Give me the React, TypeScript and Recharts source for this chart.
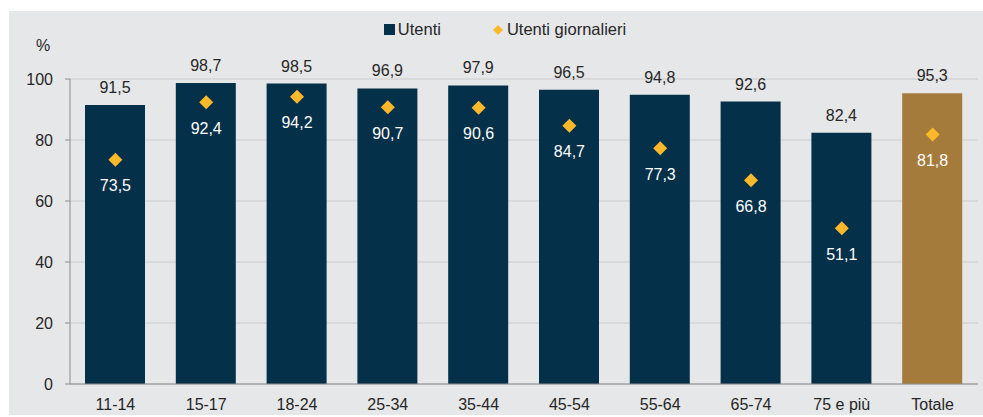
import { ComposedChart, Bar, Line, XAxis, YAxis, CartesianGrid, Cell, LabelList } from 'recharts'

const categories = ['11-14', '15-17', '18-24', '25-34', '35-44', '45-54', '55-64', '65-74', '75 e più', 'Totale']
const utenti = [91.5, 98.7, 98.5, 96.9, 97.9, 96.5, 94.8, 92.6, 82.4, 95.3]
const giornalieri = [73.5, 92.4, 94.2, 90.7, 90.6, 84.7, 77.3, 66.8, 51.1, 81.8]
const yTicks = [0, 20, 40, 60, 80, 100]
const boundaries = [0, 1, 2, 3, 4, 5, 6, 7, 8, 9, 10]

const NAVY = '#04304a'
const GOLD = '#a57b3b'
const YELLOW = '#fbb82a'
const TEXT = '#262626'
const FONT = '"Liberation Sans", Arial, sans-serif'

const data = categories.map((name, i) => ({
  name,
  pos: i + 0.5,
  utenti: utenti[i],
  giornalieri: giornalieri[i],
}))

const fmt = (v: number) => v.toFixed(1).replace('.', ',')

function Diamond(props: any) {
  const { cx, cy } = props
  if (cx == null || cy == null) return null
  const r = 7
  return (
    <polygon
      points={`${cx},${cy - r} ${cx + r},${cy} ${cx},${cy + r} ${cx - r},${cy}`}
      fill={YELLOW}
    />
  )
}

function LegendBox() {
  return (
    <div
      style={{
        position: 'absolute',
        top: 9,
        left: 0,
        width: '100%',
        display: 'flex',
        justifyContent: 'center',
        fontFamily: FONT,
        fontSize: 16.5,
        color: TEXT,
        paddingLeft: 18,
        boxSizing: 'border-box',
      }}
    >
      <span style={{ display: 'flex', alignItems: 'center', marginRight: 52 }}>
        <span style={{ width: 11, height: 11, background: NAVY, marginRight: 3 }} />
        Utenti
      </span>
      <span style={{ display: 'flex', alignItems: 'center' }}>
        <svg width={10} height={10} style={{ marginRight: 4 }}>
          <polygon points="5,0 10,5 5,10 0,5" fill={YELLOW} />
        </svg>
        Utenti giornalieri
      </span>
    </div>
  )
}

export default function App() {
  return (
    <div style={{ position: 'absolute', left: 0, top: 0, width: 983, height: 417, background: '#ffffff' }}>
      <div
        style={{
          position: 'absolute',
          left: 9,
          top: 11,
          width: 974,
          height: 404,
          background: '#e6e7e9',
          fontFamily: FONT,
        }}
      >
        <LegendBox />
        <div style={{ position: 'absolute', left: 27, top: 26, fontSize: 16, color: TEXT }}>%</div>
        <ComposedChart
          width={974}
          height={404}
          data={data}
          margin={{ top: 68, right: 5, bottom: 0, left: 0 }}
          style={{ fontFamily: FONT }}
        >
          <CartesianGrid
            xAxisId="b"
            stroke="#cbcccf"
            strokeWidth={1}
            horizontalValues={yTicks}
            verticalValues={boundaries}
          />
          <XAxis
            xAxisId="b"
            type="number"
            dataKey="pos"
            domain={[0, 10]}
            ticks={boundaries}
            tick={false}
            tickLine={{ stroke: '#8c8c8c' }}
            tickSize={6}
            axisLine={false}
            height={1}
          />
          <XAxis
            dataKey="name"
            tickLine={false}
            axisLine={{ stroke: '#8c8c8c' }}
            tick={{ fill: TEXT, fontSize: 16 }}
            tickMargin={9}
            height={30}
            interval={0}
          />
          <YAxis
            domain={[0, 100]}
            ticks={yTicks}
            width={61}
            tickSize={5}
            tickMargin={12}
            tickLine={{ stroke: '#8c8c8c' }}
            axisLine={{ stroke: '#8c8c8c' }}
            tick={{ fill: TEXT, fontSize: 16 }}
          />
          <Bar dataKey="utenti" barSize={60} isAnimationActive={false}>
            {data.map((d, i) => (
              <Cell key={d.name} fill={i === data.length - 1 ? GOLD : NAVY} />
            ))}
            <LabelList dataKey="utenti" position="top" offset={12} fill={TEXT} fontSize={16} formatter={(v: any) => fmt(Number(v))} />
          </Bar>
          <Line
            dataKey="giornalieri"
            stroke="none"
            strokeWidth={0}
            dot={<Diamond />}
            activeDot={false}
            isAnimationActive={false}
          >
            <LabelList dataKey="giornalieri" position="bottom" offset={20} fill="#ffffff" fontSize={16} formatter={(v: any) => fmt(Number(v))} />
          </Line>
        </ComposedChart>
      </div>
    </div>
  )
}
